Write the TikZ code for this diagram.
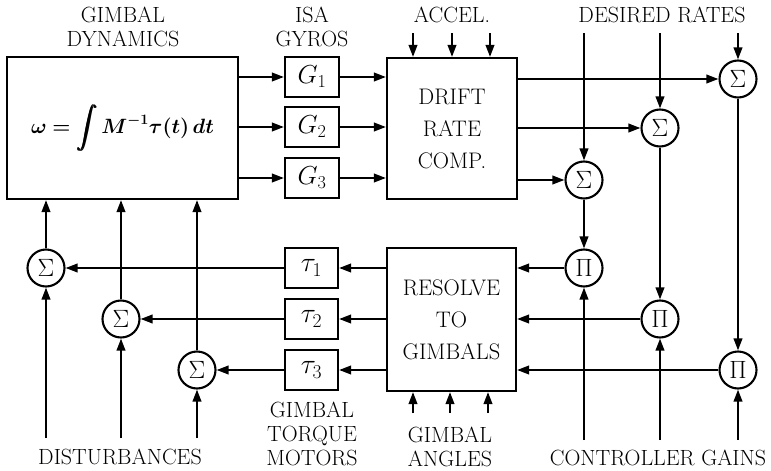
\RequirePackage{fix-cm}
\documentclass[tikz,border=0pt]{standalone}
\usepackage{amsmath,amssymb,bm}
\usepackage{tikz}
\usetikzlibrary{positioning,arrows.meta}

\begin{document}
\begin{tikzpicture}[x=1pt,y=-1pt,line width=2.1pt,>={Triangle[length=12pt,width=8.5pt]},
		every node/.style={font=\fontsize{22}{24}\selectfont},
		blk/.style={draw,rectangle,inner sep=0pt,align=center},
		bigtxt/.style={font=\fontsize{22.5}{32}\selectfont},
		symtxt/.style={font=\fontsize{26}{28}\selectfont},
		junc/.style={draw,circle,inner sep=0pt,minimum size=37pt,font=\fontsize{25}{28}\selectfont},
		lbl/.style={align=center,inner sep=0pt,anchor=base}]
				\useasboundingbox (0,0) rectangle (771,471);
				% main blocks
				\node[blk,font=\fontsize{20.7}{24}\selectfont,minimum width=231pt,minimum height=142pt] (dyn) at (122.5,128) {$\displaystyle\bm{\omega=\int M^{-1}\tau(t)\,dt}$};
				\node[blk,bigtxt,minimum width=130pt,minimum height=141pt] (drift) at (452,128.5) {DRIFT\\RATE\\COMP.};
				\node[blk,bigtxt,minimum width=129pt,minimum height=143pt] (res) at (451.5,319.5) {RESOLVE\\TO\\GIMBALS};
				% gyros and torque motors
				\foreach \i/\y in {1/77,2/127,3/178}{
					\node[blk,symtxt,minimum width=54pt,minimum height=40pt] (g\i) at (312,\y) {$G_\i$};
				}
				\foreach \i/\y in {1/268,2/319,3/370}{
					\node[blk,font=\fontsize{28}{30}\selectfont,minimum width=53pt,minimum height=40pt] (t\i) at (311.5,\y) {$\tau_\i$};
				}
				% junctions
				\foreach \i/\x/\y in {1/738/79,2/660/128,3/584/180}{
					\node[junc] (s\i) at (\x,\y) {$\Sigma$};
				}
				\foreach \i/\x/\y in {1/584/268,2/660/319,3/738/370}{
					\node[junc] (p\i) at (\x,\y) {$\Pi$};
				}
				\foreach \i/\x/\y in {1/46/268,2/121/319,3/197/370}{
					\node[junc] (d\i) at (\x,\y) {$\Sigma$};
				}
				% signal paths
				\foreach \i in {1,2,3}{
					\draw[->] (g\i -| dyn.east) -- (g\i.west);
					\draw[->] (g\i.east) -- (g\i -| drift.west);
					\draw[->] (s\i -| drift.east) -- (s\i.west);
					\draw[->] (p\i.west) -- (p\i -| res.east);
					\draw[->] (t\i -| res.west) -- (t\i.east);
					\draw[->] (t\i.west) -- (d\i.east);
					\draw[->] (d\i.north) -- (d\i |- dyn.south);
				}
				\foreach \a/\b in {s3/p1,s2/p2,s1/p3}
					\draw[->] (\a.south) -- (\b.north);
				% outside inputs
				\foreach \i/\x in {1/738,2/660,3/584}{
					\coordinate (r\i) at (\x,33);
					\draw[->] (r\i) -- (s\i.north);
				}
				\foreach \i/\x in {1/584,2/660,3/738}{
					\coordinate (k\i) at (\x,440);
					\draw[->] (k\i) -- (p\i.south);
				}
				\foreach \i/\x in {1/46,2/121,3/197}{
					\coordinate (w\i) at (\x,438);
					\draw[->] (w\i) -- (d\i.south);
				}
				\foreach \i/\x in {1/413,2/452,3/490}{
					\coordinate (a\i) at (\x,33);
					\draw[->] (a\i) -- (a\i |- drift.north);
				}
				\foreach \i/\x in {1/413,2/450,3/488}{
					\coordinate (q\i) at (\x,413);
					\draw[->] (q\i) -- (q\i |- res.south);
				}
				% labels
				\node[lbl] (ldyn) at (123,46) {GIMBAL\\DYNAMICS};
				\node[lbl] (lgyro) at (312,46) {ISA\\GYROS};
				\node[lbl] (lacc) at (452,22) {ACCEL.};
				\node[lbl] (lrate) at (662,22) {DESIRED RATES};
				\node[lbl] (lmot) at (312,465) {GIMBAL\\TORQUE\\MOTORS};
				\node[lbl] (lang) at (450,466) {GIMBAL\\ANGLES};
				\node[lbl] (ldist) at (120,464) {DISTURBANCES};
				\node[lbl] (lgain) at (658,465) {CONTROLLER GAINS};
			\end{tikzpicture}
\end{document}
